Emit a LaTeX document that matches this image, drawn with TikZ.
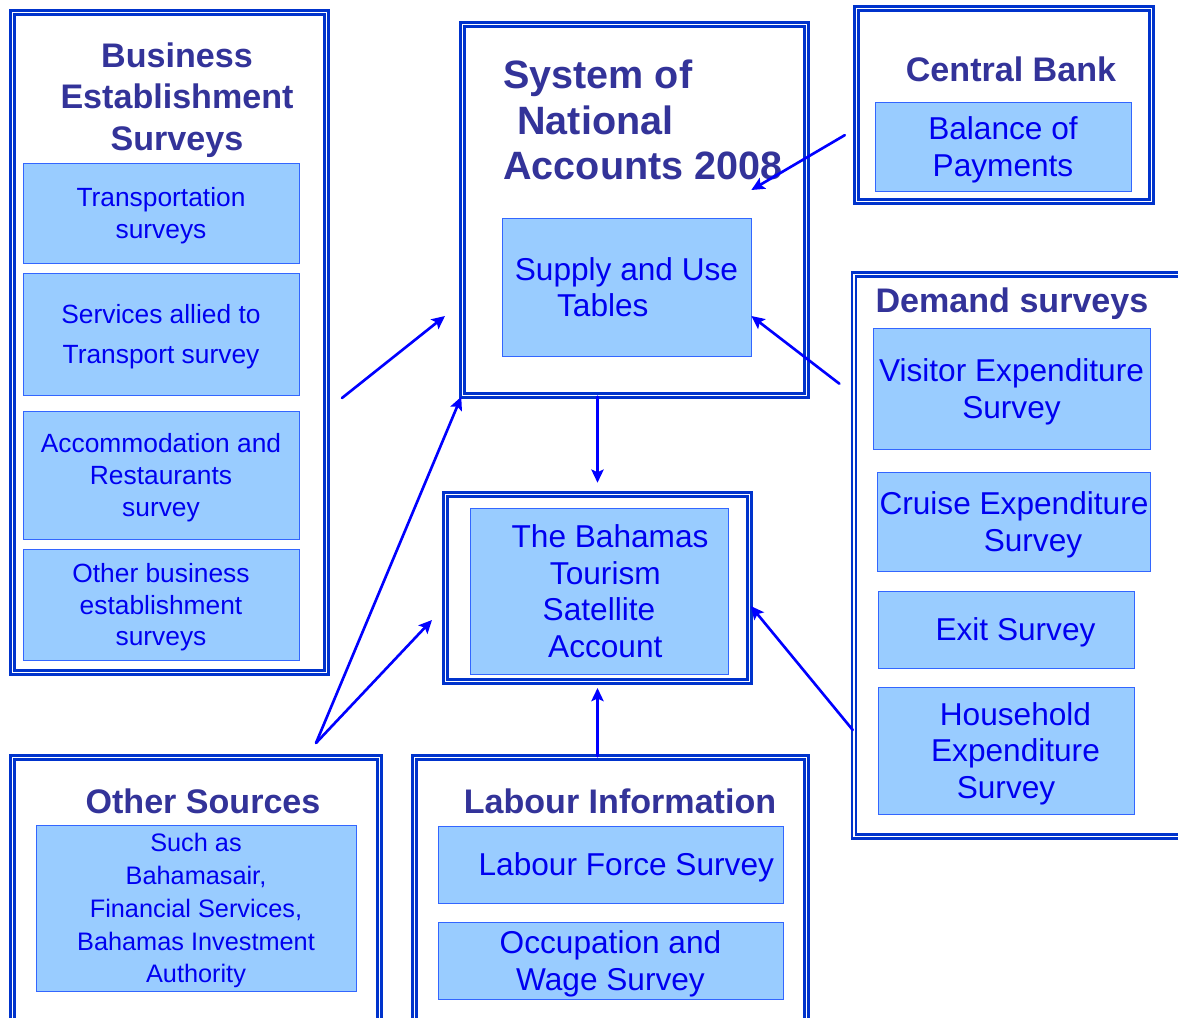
\documentclass[tikz,border=0pt]{standalone}
\usepackage{fontspec}
\setmainfont{Liberation Sans}
\usetikzlibrary{arrows.meta}

\begin{document}
\begin{tikzpicture}
	[x=0.02cm,y=-0.02cm,line cap=round,
	%Styles
	box size/.style 2 args={minimum width=#1*0.02cm,minimum height=#2*0.02cm},
	source frame/.style={draw=framecol,double=white,line width=1.4pt,double distance=1pt,fill=white,inner sep=0pt},
	data box/.style={draw=boxline,fill=boxfill,text=txtcol,align=center,inner sep=1pt,text depth=-5pt,font=\fontsize{18}{21}\selectfont},
	small box/.style={data box,font=\fontsize{15}{18.1}\selectfont},
	title text/.style={text=titlecol,align=center,inner sep=0pt,font=\bfseries\fontsize{19.4}{23.8}\selectfont},
	feed line/.style={-{Stealth[length=7.5pt,width=7pt,inset=1.5pt]},draw=arrowcol,line width=1.5pt}
	]
	
	%Colors
	\definecolor{framecol}{RGB}{0,51,204}
	\definecolor{titlecol}{RGB}{51,51,153}
	\definecolor{boxfill}{RGB}{153,204,255}
	\definecolor{boxline}{RGB}{51,102,255}
	\definecolor{txtcol}{RGB}{0,0,240}
	\definecolor{arrowcol}{RGB}{0,0,255}
	
	\useasboundingbox (0,0) rectangle (1178,1018);
	\clip (0,0) rectangle (1178,1018);
	
	%Frames
	\node[source frame,box size={314}{660}] (bes) at (169.5,342.5) {};
	\node[source frame,box size={344}{371}] (sna) at (634.5,210) {};
	\node[source frame,box size={295}{193}] (cb) at (1004,105) {};
	\node[source frame,box size={338}{562}] (dem) at (1023,555.5) {};
	\node[source frame,box size={304}{187}] (tsa) at (597.5,588) {};
	\node[source frame,box size={367}{279}] (oth) at (196,897) {};
	\node[source frame,box size={392}{279}] (lab) at (610.5,897) {};
	
	%Titles
	\node[title text] (bestitle) at (177,100) {Business\\Establishment\\Surveys};
	\node[title text,align=left,anchor=west,font=\bfseries\fontsize{22.5}{26}\selectfont] (snatitle) at (503,120) {System of\\\hspace*{8pt}National\\Accounts 2008};
	\node[title text] (cbtitle) at (1011,69) {Central Bank};
	\node[title text] (demtitle) at (1012,304) {Demand surveys};
	\node[title text] (othtitle) at (203,801) {Other Sources};
	\node[title text] (labtitle) at (620,801) {Labour Information};
	
	%Boxes
	\node[small box,box size={276}{100}] (transport) at (161,213) {Transportation\\surveys};
	\node[small box,box size={276}{122}] (allied) at (161,334) {Services allied to\\[5pt]Transport survey};
	\node[small box,box size={276}{128}] (accom) at (161,475) {Accommodation and\\Restaurants\\survey};
	\node[small box,box size={276}{111}] (otherbus) at (161,604.5) {Other business\\establishment\\surveys};
	\node[data box,box size={249}{138}] (sut) at (626.5,287) {Supply and Use\\Tables\hspace*{1.5em}};
	\node[data box,box size={256}{89}] (bop) at (1003,146.5) {Balance of\\Payments};
	\node[data box,box size={277}{121}] (visitor) at (1011.5,388.5) {Visitor Expenditure\\Survey};
	\node[data box,box size={272}{99}] (cruise) at (1014,521.5) {Cruise Expenditure\\\hspace*{1.2em}Survey};
	\node[data box,box size={256}{77}] (exitsv) at (1006,629.5) {\hspace*{0.6em}Exit Survey};
	\node[data box,box size={256}{127}] (household) at (1006,750.5) {\hspace*{0.6em}Household\\\hspace*{0.6em}Expenditure\\Survey};
	\node[data box,box size={258}{166}] (tsabox) at (599,591) {\hspace*{0.7em}The Bahamas\\\hspace*{0.4em}Tourism\\Satellite\\\hspace*{0.4em}Account};
	\node[data box,box size={320}{166},font=\fontsize{14.4}{18.7}\selectfont] (such) at (196,908) {Such as\\Bahamasair,\\Financial Services,\\Bahamas Investment\\Authority};
	\node[data box,box size={345}{77}] (lfs) at (610.5,864.5) {\hspace*{1em}Labour Force Survey};
	\node[data box,box size={345}{77}] (ows) at (610.5,960.5) {Occupation and\\Wage Survey};
	
	%Arrows
	\coordinate (besout) at (342,398);
	\coordinate (snaleft) at (445,316);
	\coordinate (othtop) at (316,743);
	\coordinate (tsaleft) at (432,620);
	
	\draw[feed line] (besout) -- (snaleft);
	\draw[feed line] (othtop) -- (sna.south west);
	\draw[feed line] (othtop) -- (tsaleft);
	\draw[feed line,shorten >=6pt] (tsa.north |- sna.south) -- (tsa.north);
	\draw[feed line,shorten >=3pt] (tsa.south |- lab.north) -- (tsa.south);
	\draw[feed line] (dem.west |- 0,730) -- (tsa.east |- 0,606);
	\draw[feed line,shorten <=9.6pt] (dem.west |- 0,394) -- (sut.east |- 0,316);
	\draw[feed line,shorten <=6.9pt] (cb.west |- 0,129) -- (sut.east |- 0,190);
\end{tikzpicture}
\end{document}
